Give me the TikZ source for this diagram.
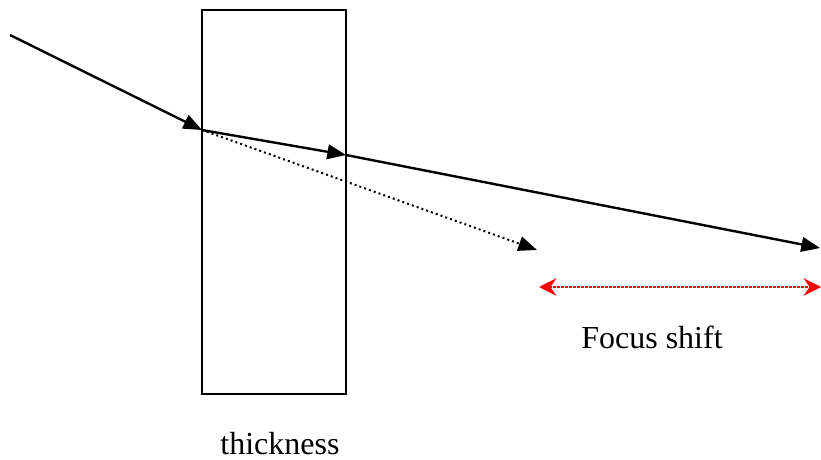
\documentclass[tikz,border=0pt]{standalone}
\usepackage{fontspec}
\setmainfont{Liberation Serif}
\usetikzlibrary{arrows.meta,positioning}

\begin{document}
\begin{tikzpicture}[
    x=0.75pt, y=-0.75pt,
    ray/.style={line width=1.8pt, -{Triangle[length=14pt,width=11pt]}},
    virtual/.style={line width=1.5pt, dash pattern=on 1.5pt off 2.3pt, -{Triangle[length=14pt,width=11pt]}},
    shiftline/.style={red, line width=1.8pt, dash pattern=on 1.6pt off 1.4pt, {Stealth[length=13pt,width=13pt,inset=4.5pt]}-{Stealth[length=13pt,width=13pt,inset=4.5pt]}},
    textlabel/.style={font=\fontsize{24}{28}\selectfont, inner sep=0pt}
]
\useasboundingbox (0,0) rectangle (821,460);

% plate
\node[draw, line width=1.2pt, minimum width=108pt, minimum height=288pt, inner sep=0pt] (plate) at (274,202) {};

% ray points
\coordinate (src) at (10,35);
\coordinate (entry) at (202,130);
\coordinate (exit) at (346,155);
\coordinate (focus) at (820,248);
\coordinate (nofocus) at (537,250);
\coordinate (shiftL) at (539,287);
\coordinate (shiftR) at (821,287);

% rays
\draw[ray] (src) -- (entry);
\draw[ray] (entry) -- (exit);
\draw[ray] (exit) -- (focus);
\draw[virtual] (entry) -- (nofocus);

% focus shift
\draw[shiftline] (shiftL) -- (shiftR);

% labels
\node[textlabel, anchor=base] (shifttext) at (652,348) {Focus shift};
\node[textlabel, anchor=base] (thick) at (280,454) {thickness};

\end{tikzpicture}
\end{document}
